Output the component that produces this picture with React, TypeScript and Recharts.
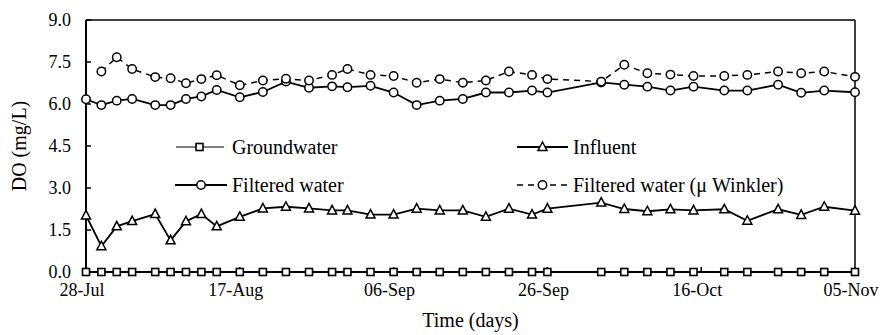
import {
  LineChart,
  Line,
  XAxis,
  YAxis,
  ReferenceLine,
  Legend,
} from 'recharts';

// sampling days counted from 28-Jul
const days = [0, 2, 4, 6, 9, 11, 13, 15, 17, 20, 23, 26, 29, 32, 34, 37, 40, 43, 46, 49, 52, 55, 58, 60, 67, 70, 73, 76, 79, 83, 86, 90, 93, 96, 100];

const groundwater = [0, 0, 0, 0, 0, 0, 0, 0, 0, 0, 0, 0, 0, 0, 0, 0, 0, 0, 0, 0, 0, 0, 0, 0, 0, 0, 0, 0, 0, 0, 0, 0, 0, 0, 0];

const influent = [2.02, 0.92, 1.63, 1.82, 2.07, 1.13, 1.81, 2.07, 1.63, 1.97, 2.27, 2.33, 2.27, 2.2, 2.2, 2.05, 2.05, 2.26, 2.2, 2.2, 1.97, 2.26, 2.05, 2.26, 2.48, 2.25, 2.17, 2.24, 2.2, 2.24, 1.83, 2.24, 2.04, 2.33, 2.19];

const filtered = [6.17, 5.96, 6.12, 6.18, 5.96, 5.96, 6.18, 6.27, 6.5, 6.24, 6.43, 6.8, 6.58, 6.63, 6.6, 6.65, 6.41, 5.96, 6.12, 6.18, 6.41, 6.41, 6.48, 6.41, 6.77, 6.69, 6.62, 6.48, 6.62, 6.48, 6.48, 6.69, 6.4, 6.48, 6.42];

// no μ Winkler reading on the first day
const winkler = [null, 7.16, 7.67, 7.25, 6.96, 6.92, 6.74, 6.89, 7.03, 6.67, 6.84, 6.9, 6.84, 7.04, 7.25, 7.04, 7.0, 6.76, 6.89, 6.76, 6.84, 7.16, 7.04, 6.89, 6.8, 7.4, 7.1, 7.05, 7.0, 7.0, 7.04, 7.16, 7.1, 7.16, 6.97];

const xTicks = [0, 20, 40, 60, 80, 100];
const xTickLabels = ['28-Jul', '17-Aug', '06-Sep', '26-Sep', '16-Oct', '05-Nov'];
const yTicks = [0, 1.5, 3, 4.5, 6, 7.5, 9];

const FONT = 'Liberation Serif, DejaVu Serif, serif';

const chartData = days.map((d, i) => ({
  day: d,
  groundwater: groundwater[i],
  influent: influent[i],
  filtered: filtered[i],
  winkler: winkler[i],
}));

const SquareDot = (props: any) => {
  const { cx, cy, index } = props;
  if (cx == null || cy == null) return <g key={`sq-${index}`} />;
  return (
    <rect key={`sq-${index}`} x={cx - 3.5} y={cy - 3.5} width={7} height={7} fill="#fff" stroke="#000" strokeWidth={1.6} />
  );
};

const TriDot = (props: any) => {
  const { cx, cy, index } = props;
  if (cx == null || cy == null) return <g key={`tr-${index}`} />;
  return (
    <polygon
      key={`tr-${index}`}
      points={`${cx},${cy - 5} ${cx - 4.5},${cy + 3.5} ${cx + 4.5},${cy + 3.5}`}
      fill="#fff"
      stroke="#000"
      strokeWidth={1.5}
    />
  );
};

const CircleDot = (props: any) => {
  const { cx, cy, index, dataKey } = props;
  if (cx == null || cy == null) return <g key={`ci-${dataKey}-${index}`} />;
  return <circle key={`ci-${dataKey}-${index}`} cx={cx} cy={cy} r={4.2} fill="#fff" stroke="#000" strokeWidth={1.5} />;
};

// legend drawn in page coordinates, inside the plot
const LegendBox = () => {
  const textStyle = { fontFamily: FONT, fontSize: 20, fill: '#000' };
  return (
    <svg width={882} height={335} style={{ pointerEvents: 'none' }}>
      <line x1={176} y1={147} x2={224} y2={147} stroke="#000" strokeWidth={1} />
      <rect x={196} y={143.5} width={7} height={7} fill="#fff" stroke="#000" strokeWidth={1.6} />
      <text x={232} y={154} style={textStyle}>Groundwater</text>

      <line x1={517} y1={147} x2={568} y2={147} stroke="#000" strokeWidth={1.8} />
      <polygon points="542.5,142 538,150.5 547,150.5" fill="#fff" stroke="#000" strokeWidth={1.5} />
      <text x={573} y={154} style={textStyle}>Influent</text>

      <line x1={175} y1={185} x2={227} y2={185} stroke="#000" strokeWidth={1.8} />
      <circle cx={201} cy={185} r={4.2} fill="#fff" stroke="#000" strokeWidth={1.5} />
      <text x={232} y={192} style={textStyle}>Filtered water</text>

      <line x1={517} y1={185} x2={568} y2={185} stroke="#000" strokeWidth={1.5} strokeDasharray="6 5" />
      <circle cx={542.5} cy={185} r={4.2} fill="#fff" stroke="#000" strokeWidth={1.5} />
      <text x={573} y={192} style={textStyle}>Filtered water (μ Winkler)</text>
    </svg>
  );
};

export default function App() {
  return (
    <div style={{ position: 'absolute', left: 0, top: 0, width: 882, height: 335, background: '#fff', fontFamily: FONT }}>
      <LineChart
        width={882}
        height={335}
        data={chartData}
        margin={{ top: 20, right: 27, left: 0, bottom: 33 }}
        style={{ fontFamily: FONT }}
      >
        <XAxis
          dataKey="day"
          type="number"
          domain={[0, 100]}
          ticks={xTicks}
          tickFormatter={(v: number) => xTickLabels[xTicks.indexOf(v)] ?? ''}
          height={30}
          axisLine={{ stroke: '#000', strokeWidth: 2 }}
          tickLine={{ stroke: '#000', strokeWidth: 1.5 }}
          tickSize={-5}
          tickMargin={16}
          tick={{ fill: '#000', fontSize: 18, fontFamily: FONT, dx: -4 }}
          interval={0}
          label={{ value: 'Time (days)', position: 'bottom', offset: 11, fill: '#000', fontSize: 20, fontFamily: FONT }}
        />
        <YAxis
          type="number"
          domain={[0, 9]}
          ticks={yTicks}
          tickFormatter={(v: number) => v.toFixed(1)}
          width={86}
          axisLine={{ stroke: '#000', strokeWidth: 2 }}
          tickLine={{ stroke: '#000', strokeWidth: 1.5 }}
          tickSize={-5}
          tickMargin={20}
          tick={{ fill: '#000', fontSize: 18, fontFamily: FONT }}
          interval={0}
          label={{
            value: 'DO (mg/L)',
            angle: -90,
            position: 'insideLeft',
            offset: 19,
            textAnchor: 'middle',
            fill: '#000',
            fontSize: 20,
            fontFamily: FONT,
          }}
        />
        <ReferenceLine y={9} stroke="#000" strokeWidth={1.5} />
        <ReferenceLine x={100} stroke="#000" strokeWidth={1.5} />
        <Line
          dataKey="groundwater"
          stroke="#000"
          strokeWidth={2}
          dot={SquareDot}
          isAnimationActive={false}
        />
        <Line
          dataKey="influent"
          stroke="#000"
          strokeWidth={1.8}
          dot={TriDot}
          isAnimationActive={false}
        />
        <Line
          dataKey="filtered"
          stroke="#000"
          strokeWidth={1.8}
          dot={CircleDot}
          isAnimationActive={false}
        />
        <Line
          dataKey="winkler"
          stroke="#000"
          strokeWidth={1.5}
          strokeDasharray="6 5"
          dot={CircleDot}
          isAnimationActive={false}
        />
        <Legend
          layout="horizontal"
          verticalAlign="middle"
          align="center"
          content={<LegendBox />}
          wrapperStyle={{ left: 0, top: 0, width: 882, height: 335, pointerEvents: 'none' }}
        />
      </LineChart>
    </div>
  );
}
